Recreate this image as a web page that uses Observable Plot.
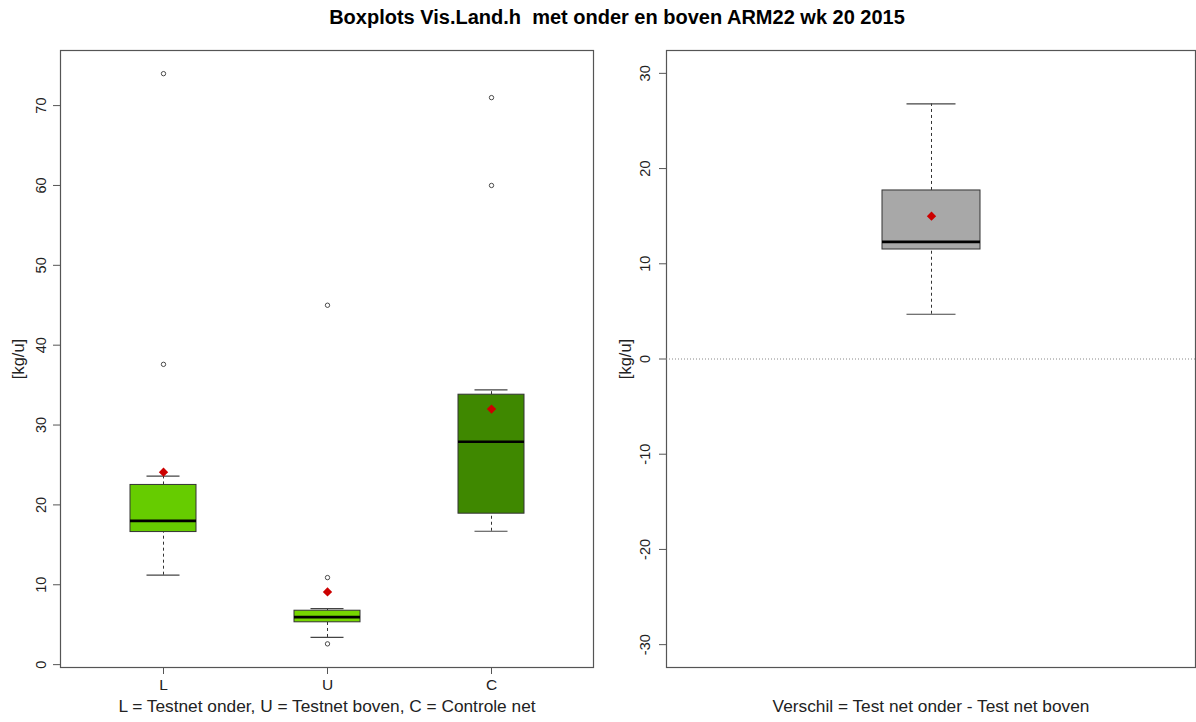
<!DOCTYPE html>
<html><head><meta charset="utf-8">
<script src="https://cdn.jsdelivr.net/npm/d3@7"></script>
<script src="https://cdn.jsdelivr.net/npm/@observablehq/plot@0.6"></script>
<style>
body{margin:0;background:#fff;font-family:"Liberation Sans",Arial,sans-serif;}
#wrap{position:relative;width:1196px;height:722px;overflow:hidden;background:#fff;}
#title{position:absolute;top:6px;left:617px;transform:translateX(-50%);font-weight:bold;font-size:20px;white-space:pre;color:#000;}
#left{position:absolute;left:0;top:36px;}
#right{position:absolute;left:600px;top:36px;}
</style></head><body>
<div id="wrap"><div id="title">Boxplots Vis.Land.h  met onder en boven ARM22 wk 20 2015</div><div id="left"></div><div id="right"></div></div>
<script>
// ---- left panel data ----
const groups = ["L", "U", "C"];
const lowWhisker = [11.2, 3.4, 16.7];
const q1 = [16.6, 5.3, 18.9];
const median = [18.0, 5.95, 27.9];
const q3 = [22.5, 6.75, 33.8];
const highWhisker = [23.6, 7.0, 34.4];
const means = [24.1, 9.1, 32.0];
const outlierGroup = ["L", "L", "U", "U", "U", "C", "C"];
const outlierValue = [74, 37.6, 45, 10.9, 2.6, 71, 60];
const fills = ["#66CC00", "#76D600", "#3F8800"];
const leftTicks = [0, 10, 20, 30, 40, 50, 60, 70];
const leftCaption = "L = Testnet onder, U = Testnet boven, C = Controle net";

// ---- right panel data ----
const diffGroup = ["Verschil"];
const diffLow = [4.7];
const diffQ1 = [11.5];
const diffMedian = [12.3];
const diffQ3 = [17.7];
const diffHigh = [26.8];
const diffMean = [15.0];
const rightTicks = [-30, -20, -10, 0, 10, 20, 30];
const rightCaption = "Verschil = Test net onder - Test net boven";
const yLabel = "[kg/u]";

const boxes = groups.map((g, i) => ({g, lo: lowWhisker[i], q1: q1[i], med: median[i], q3: q3[i], hi: highWhisker[i], mean: means[i], fill: fills[i]}));
const outliers = outlierGroup.map((g, i) => ({g, v: outlierValue[i]}));
const diffBoxes = diffGroup.map((g, i) => ({g, lo: diffLow[i], q1: diffQ1[i], med: diffMedian[i], q3: diffQ3[i], hi: diffHigh[i], mean: diffMean[i]}));

const font = "Liberation Sans, Arial, sans-serif";
const boxMarks = (data, capInset, fill) => [
  Plot.ruleX(data, {x: "g", y1: "q3", y2: "hi", stroke: "#333", strokeWidth: 1, strokeDasharray: "3,3"}),
  Plot.ruleX(data, {x: "g", y1: "lo", y2: "q1", stroke: "#333", strokeWidth: 1, strokeDasharray: "3,3"}),
  Plot.tickY(data, {x: "g", y: "hi", insetLeft: capInset, insetRight: capInset, stroke: "#444", strokeWidth: 1.2}),
  Plot.tickY(data, {x: "g", y: "lo", insetLeft: capInset, insetRight: capInset, stroke: "#444", strokeWidth: 1.2}),
  Plot.barY(data, {x: "g", y1: "q1", y2: "q3", fill, stroke: "#333", strokeWidth: 1}),
  Plot.tickY(data, {x: "g", y: "med", stroke: "#000", strokeWidth: 2.6})
];

const left = Plot.plot({
  width: 600, height: 686,
  marginLeft: 60, marginRight: 7, marginTop: 14, marginBottom: 55,
  style: {fontFamily: font, fontSize: "14px", background: "white", color: "#222"},
  color: {type: "identity"},
  x: {type: "band", domain: groups, paddingInner: 0.6, paddingOuter: 0.42, axis: null},
  y: {domain: [-0.36, 76.9], axis: null},
  marks: [
    Plot.frame({stroke: "#555", strokeWidth: 1.2}),
    Plot.axisX({tickSize: 7, tickPadding: 4, stroke: "#555", fill: "#222", fontSize: 15.5, label: null}),
    Plot.axisY({ticks: leftTicks, tickSize: 7, tickFormat: () => "", stroke: "#555", label: null}),
    ...boxMarks(boxes, 16.5, "fill"),
    Plot.dot(outliers, {x: "g", y: "v", r: 2.2, stroke: "#222", strokeWidth: 0.8}),
    Plot.dot(boxes, {x: "g", y: "mean", symbol: "diamond2", r: 4.2, fill: "#CC0000"}),
    Plot.text(leftTicks, {y: d => d, text: d => String(d), frameAnchor: "left", textAnchor: "middle", dx: -19, rotate: -90, fontSize: 14.5, fill: "#222"}),
    Plot.text([yLabel], {text: d => d, frameAnchor: "left", textAnchor: "middle", dx: -42, rotate: -90, fontSize: 16.5, fill: "#222"}),
    Plot.text([leftCaption], {text: d => d, frameAnchor: "bottom", dy: 44, fontSize: 17.3, fill: "#222"})
  ]
});
document.getElementById("left").appendChild(left);

const right = Plot.plot({
  width: 596, height: 686,
  marginLeft: 66, marginRight: 1, marginTop: 14, marginBottom: 55,
  style: {fontFamily: font, fontSize: "14px", background: "white", color: "#222"},
  x: {type: "band", domain: diffGroup, paddingInner: 0.8, paddingOuter: 0.44, axis: null},
  y: {domain: [-32.4, 32.4], axis: null},
  marks: [
    Plot.frame({stroke: "#555", strokeWidth: 1.2}),
    Plot.ruleY([0], {stroke: "#888", strokeWidth: 1, strokeDasharray: "1,2"}),
    Plot.axisY({ticks: rightTicks, tickSize: 7, tickFormat: () => "", stroke: "#555", label: null}),
    ...boxMarks(diffBoxes, 24.5, "#A8A8A8"),
    Plot.dot(diffBoxes, {x: "g", y: "mean", symbol: "diamond2", r: 4.2, fill: "#CC0000"}),
    Plot.text(rightTicks, {y: d => d, text: d => String(d), frameAnchor: "left", textAnchor: "middle", dx: -21, rotate: -90, fontSize: 14.5, fill: "#222"}),
    Plot.text([yLabel], {text: d => d, frameAnchor: "left", textAnchor: "middle", dx: -41, rotate: -90, fontSize: 16.5, fill: "#222"}),
    Plot.text([rightCaption], {text: d => d, frameAnchor: "bottom", dy: 44, fontSize: 17.3, fill: "#222"})
  ]
});
document.getElementById("right").appendChild(right);
</script>
</body></html>
